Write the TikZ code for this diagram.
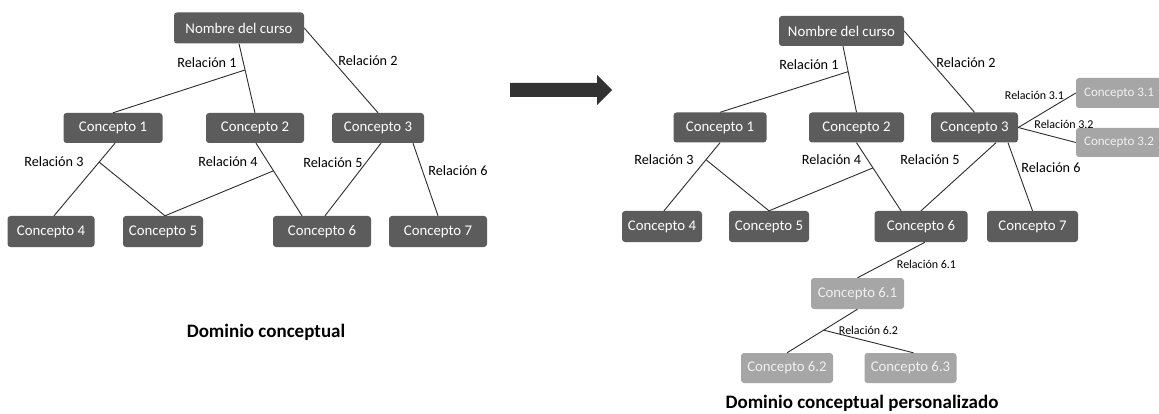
\documentclass[tikz,border=0pt]{standalone}
\usepackage{fontspec}
\setmainfont{Carlito}
\usetikzlibrary{calc}
\definecolor{nodedark}{RGB}{92,92,92}
\definecolor{nodelight}{RGB}{166,166,166}
\definecolor{linegray}{RGB}{45,45,45}
\definecolor{arrowdark}{RGB}{50,50,50}
\begin{document}
\begin{tikzpicture}[x=1pt,y=-1pt,
  cbox/.style={rectangle, rounded corners=3pt, fill=nodedark, text=white, font=\fontsize{14.8}{16}\selectfont, inner sep=0pt, minimum height=30pt},
  cboxlight/.style={cbox, fill=nodelight, text=white!88!gray},
  conn/.style={draw=linegray, line width=0.9pt},
  rel/.style={font=\fontsize{14.2}{16}\selectfont, text=black, inner sep=0pt},
  relsmall/.style={font=\fontsize{12}{13}\selectfont, text=black, inner sep=0pt},
  titlelbl/.style={font=\bfseries\fontsize{19}{20}\selectfont, text=black, inner sep=0pt}]

\useasboundingbox (0,0) rectangle (1159,414);
\clip (0,0) rectangle (1159,414);
\fill[white] (0,0) rectangle (1159,414);

% ---------------- Left diagram ----------------
\node[cbox, minimum width=130pt, minimum height=31pt] (nL) at (239,28) {Nombre del curso};
\node[cbox, minimum width=99pt] (c1L) at (113,128) {Concepto 1};
\node[cbox, minimum width=98pt] (c2L) at (255,128) {Concepto 2};
\node[cbox, minimum width=92pt] (c3L) at (378,128) {Concepto 3};
\node[cbox, minimum width=87pt, minimum height=31pt] (c4L) at (51,231.5) {Concepto 4};
\node[cbox, minimum width=80pt, minimum height=31pt] (c5L) at (163,231.5) {Concepto 5};
\node[cbox, minimum width=98pt, minimum height=31pt] (c6L) at (322,231.5) {Concepto 6};
\node[cbox, minimum width=98pt, minimum height=31pt] (c7L) at (438,231.5) {Concepto 7};

\draw[conn] (nL.south) -- coordinate[pos=0.38] (j1L) (c2L.north);
\draw[conn] (j1L) -- (c1L.north);
\node[rel] (r1L) at (207,63) {Relación 1};

\draw[conn] (nL.east) -- (c3L.north);
\node[rel] (r2L) at (368,61) {Relación 2};

\draw[conn] ([xshift=2pt]c1L.south) -- coordinate[pos=0.26] (j3L) ([xshift=3pt]c4L.north);
\draw[conn] (j3L) -- ([xshift=2pt]c5L.north);
\node[rel] (r3L) at (54,162) {Relación 3};

\draw[conn] ([xshift=1pt]c2L.south) -- coordinate[pos=0.38] (j4L) ([xshift=-20pt]c6L.north);
\draw[conn] (j4L) -- ([xshift=2pt]c5L.north);
\node[rel] (r4L) at (228,162) {Relación 4};

\draw[conn] ([xshift=3pt]c3L.south) -- ([xshift=3pt]c6L.north);
\node[rel] (r5L) at (333,163) {Relación 5};

\draw[conn] ([xshift=35pt]c3L.south) -- (c7L.north);
\node[rel] (r6L) at (458,171) {Relación 6};

\node[titlelbl] (tL) at (266,332) {Dominio conceptual};

% ---------------- Arrow ----------------
\fill[arrowdark] (510,83) -- (597,83) -- (597,75) -- (612,90) -- (597,105) -- (597,97) -- (510,97) -- cycle;

% ---------------- Right diagram ----------------
\node[cbox, minimum width=125pt] (nR) at (841.5,31) {Nombre del curso};
\node[cbox, minimum width=93pt] (c1R) at (720,127.5) {Concepto 1};
\node[cbox, minimum width=95pt] (c2R) at (856.5,127.5) {Concepto 2};
\node[cbox, minimum width=87pt] (c3R) at (974.5,127.5) {Concepto 3};
\node[cboxlight, minimum width=86pt, font=\fontsize{13}{14}\selectfont] (c31) at (1119,93) {Concepto 3.1};
\node[cboxlight, minimum width=86pt, minimum height=29pt, font=\fontsize{13}{14}\selectfont] (c32) at (1119,142.5) {Concepto 3.2};
\node[cbox, minimum width=80pt, minimum height=31pt] (c4R) at (662,226.5) {Concepto 4};
\node[cbox, minimum width=80pt, minimum height=31pt] (c5R) at (769,226.5) {Concepto 5};
\node[cbox, minimum width=93pt, minimum height=31pt] (c6R) at (921,226.5) {Concepto 6};
\node[cbox, minimum width=91pt, minimum height=31pt] (c7R) at (1032.5,226.5) {Concepto 7};
\node[cboxlight, minimum width=93pt, minimum height=31pt] (c61) at (857.5,293.5) {Concepto 6.1};
\node[cboxlight, minimum width=92pt] (c62) at (787,368) {Concepto 6.2};
\node[cboxlight, minimum width=92pt] (c63) at (910.5,368) {Concepto 6.3};

\draw[conn] ([xshift=1.5pt]nR.south) -- coordinate[pos=0.385] (j1R) (c2R.north);
\draw[conn] (j1R) -- (c1R.north);
\node[rel] (r1R) at (809,65) {Relación 1};

\draw[conn] (nR.east) -- (c3R.north);
\node[rel] (r2R) at (966,62.7) {Relación 2};

\draw[conn] (c3R.east) -- (c31.west);
\node[relsmall] (r31) at (1034.5,95) {Relación 3.1};
\draw[conn] (c3R.east) -- (c32.west);
\node[relsmall] (r32) at (1064,124) {Relación 3.2};

\draw[conn] (c1R.south) -- coordinate[pos=0.25] (j3R) ([xshift=2pt]c4R.north);
\draw[conn] (j3R) -- (c5R.north);
\node[rel] (r3R) at (664,160) {Relación 3};

\draw[conn] (c2R.south) -- coordinate[pos=0.37] (j4R) ([xshift=-20pt]c6R.north);
\draw[conn] (j4R) -- (c5R.north);
\node[rel] (r4R) at (831.5,160) {Relación 4};

\draw[conn] ([xshift=21.5pt]c3R.south) -- (c6R.north);
\node[rel] (r5R) at (930,160) {Relación 5};

\draw[conn] ([xshift=33.5pt]c3R.south) -- (c7R.north);
\node[rel] (r6R) at (1051,168) {Relación 6};

\draw[conn] ([xshift=4pt]c6R.south) -- (c61.north);
\node[relsmall] (r61) at (926.5,264) {Relación 6.1};

\draw[conn] (c61.south) -- coordinate[pos=0.48] (j62) (c62.north);
\draw[conn] (j62) -- ([xshift=3pt]c63.north);
\node[relsmall] (r62) at (868.5,330) {Relación 6.2};

\node[titlelbl] (tR) at (862,403) {Dominio conceptual personalizado};
\end{tikzpicture}
\end{document}
